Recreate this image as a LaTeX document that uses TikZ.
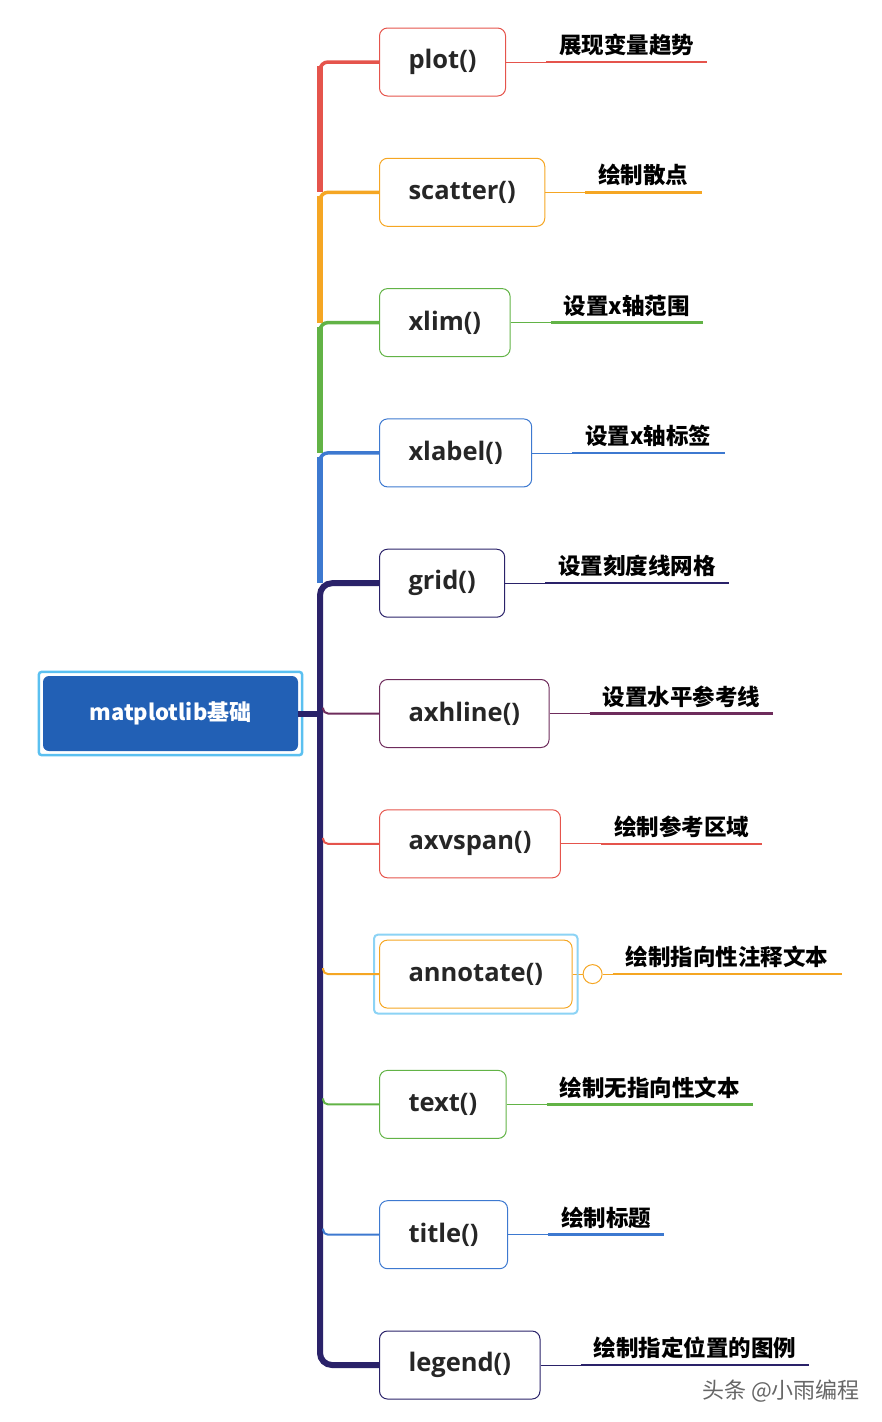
\documentclass[tikz,border=0pt]{standalone}
\usepackage{fontspec}
\setmainfont{Open Sans}
\newfontfamily\cjk{Noto Sans CJK SC}
\usetikzlibrary{calc}
\definecolor{RedClr}{HTML}{E5544C}
\definecolor{OrangeClr}{HTML}{F5A623}
\definecolor{GreenClr}{HTML}{62B346}
\definecolor{BlueClr}{HTML}{3D79D0}
\definecolor{NavyClr}{HTML}{2A2269}
\definecolor{PlumClr}{HTML}{6E2C5C}
\definecolor{RootClr}{HTML}{2260B5}
\definecolor{SkyClr}{HTML}{5BC0F0}

\tikzset{
  fnbox/.style={draw=#1,line width=1pt,rounded corners=8pt,minimum height=68pt,
    inner xsep=29pt,anchor=west,font=\bfseries\fontsize{25.5}{26}\selectfont,text=black!85},
  desc/.style={anchor=south west,inner xsep=13pt,inner ysep=6pt,
    font=\cjk\bfseries\fontsize{22.5}{23}\selectfont},
  thinline/.style={draw=#1,line width=0.8pt},
  underline/.style={draw=#1,line width=2.5pt},
  branch/.style={draw=#1,line width=3.5pt,rounded corners=8pt},
  trunk/.style={draw=#1,line width=6pt}
}

\begin{document}
\begin{tikzpicture}[x=1pt,y=-1pt]
\useasboundingbox (0,0) rectangle (882,1422);

% root
\node[fill=RootClr,rounded corners=6pt,minimum width=255pt,minimum height=75pt,
  text=white,font=\cjk\bfseries\fontsize{22}{22}\selectfont] (root) at (170.5,713.5) {matplotlib基础};
\draw[SkyClr,line width=2.5pt,rounded corners=3pt]
  ($(root.north west)+(-4,-4)$) rectangle ($(root.south east)+(4,4)$);

% functions and their descriptions
\foreach \i/\fn/\txt/\clr in {
  1/plot()/展现变量趋势/RedClr,
  2/scatter()/绘制散点/OrangeClr,
  3/xlim()/设置x轴范围/GreenClr,
  4/xlabel()/设置x轴标签/BlueClr,
  5/grid()/设置刻度线网格/NavyClr,
  6/axhline()/设置水平参考线/PlumClr,
  7/axvspan()/绘制参考区域/RedClr,
  8/annotate()/绘制指向性注释文本/OrangeClr,
  9/text()/绘制无指向性文本/GreenClr,
  10/title()/绘制标题/BlueClr,
  11/legend()/绘制指定位置的图例/NavyClr}{
  \pgfmathsetmacro{\yy}{62+(\i-1)*130.3}
  \node[fnbox=\clr] (b\i) at (379,\yy) {\fn};
  \ifnum\i=8
    \node[draw=\clr,line width=1pt,circle,minimum size=19pt,inner sep=0pt,anchor=west]
      (k\i) at ($(b\i.east)+(10,0)$) {};
    \coordinate (s\i) at ($(k\i.east)+(10,0)$);
    \draw[thinline=\clr] (b\i.east) -- (k\i.west);
    \draw[thinline=\clr] (k\i.east) -- (s\i);
  \else
    \coordinate (s\i) at ($(b\i.east)+(40,0)$);
    \draw[thinline=\clr] (b\i.east) -- (s\i);
  \fi
  \node[desc] (d\i) at (s\i) {\txt};
  \draw[underline=\clr] (s\i) -- (d\i.south east);
}

% highlight round annotate()
\draw[SkyClr!70,line width=2pt,rounded corners=4pt]
  ($(b8.north west)+(-5,-5)$) rectangle ($(b8.south east)+(5,5)$);

% coloured trunk, upper part
\foreach \i/\j/\clr in {1/2/RedClr,2/3/OrangeClr,3/4/GreenClr,4/5/BlueClr}{
  \draw[trunk=\clr] ($(b\i.west)+(-59,4)$) -- ($(b\j.west)+(-59,0)$);
  \draw[branch=\clr] (b\i.west) -| ($(b\i.west)+(-59,14)$);
}
\draw[trunk=NavyClr,rounded corners=12pt] (b5.west) -| ($(b8.west)+(-59,0)$) |- (b11.west);
\draw[trunk=NavyClr] (root.east) -- ($(b6.west)+(-59,0)$);

% thin branches, lower part
\foreach \i/\clr in {6/PlumClr,7/RedClr,8/OrangeClr,9/GreenClr,10/BlueClr}{
  \draw[branch=\clr,line width=2pt,rounded corners=5pt] ($(b\i.west)+(-56,-6)$) |- (b\i.west);
}

% watermark
\node[text=black!60,font=\cjk\fontsize{22}{22}\selectfont] (mark) at (781,1391) {头条 @小雨编程};
\end{tikzpicture}
\end{document}
